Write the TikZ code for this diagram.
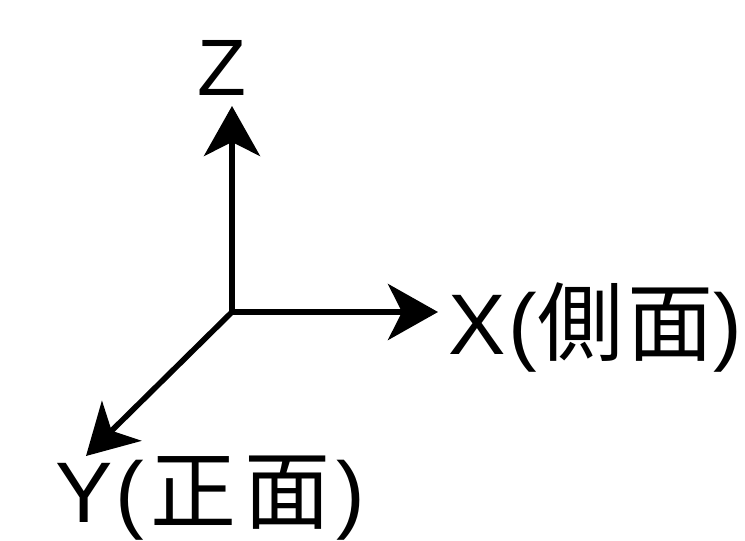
\documentclass[tikz,border=0pt]{standalone}
\usepackage{fontspec}
\setmainfont{Liberation Sans}
\newfontfamily\cjk{Noto Sans CJK TC}
\usetikzlibrary{arrows.meta}
\begin{document}
\begin{tikzpicture}[x=0.5pt,y=-0.5pt,
    axis/.style={line width=2.8pt,-{Stealth[length=25pt,width=28pt,inset=7pt]}},
    lbl/.style={inner sep=0pt,font=\fontsize{43}{43}\selectfont}]
      \useasboundingbox (0,0) rectangle (745,541);
      \coordinate (o) at (232,312);
      \coordinate (z) at (232,106);
      \coordinate (x) at (438,312);
      \coordinate (y) at (86,456);
      \foreach \i in {x,y,z} {
	\draw[axis] (o) -- (\i);
      };
      \node[lbl,anchor=base,font=\fontsize{40}{40}\selectfont] (lz) at (222,95) {Z};
      \node[lbl,anchor=base west] (lx) at (448,354) {X\hspace{1.5pt}({\cjk 側\hspace{2pt}面})};
      \node[lbl,anchor=base west] (ly) at (55,522) {Y\hspace{1.5pt}(\hspace{3pt}{\cjk 正\hspace{4pt}面}\hspace{3pt})};
    \end{tikzpicture}
\end{document}
